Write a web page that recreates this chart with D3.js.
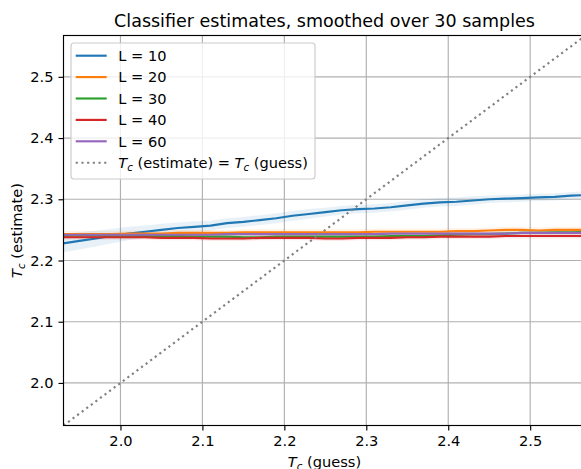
<!DOCTYPE html>
<html>
<head>
<meta charset="utf-8">
<script src="https://cdn.jsdelivr.net/npm/d3@7"></script>
<style>
  body { margin: 0; background: #fff; }
  text { font-family: "DejaVu Sans", sans-serif; }
</style>
</head>
<body>
<svg width="581" height="469"></svg>
<script>
// guessed Tc values (x)
let guess = [1.93, 1.95, 1.97, 1.99, 2.01, 2.03, 2.05, 2.07, 2.09, 2.11, 2.13, 2.15, 2.17, 2.19, 2.21, 2.23, 2.25,
  2.27, 2.29, 2.31, 2.33, 2.35, 2.37, 2.39, 2.41, 2.43, 2.45, 2.47, 2.49, 2.51, 2.53, 2.55, 2.57];

let labels = ["L = 10", "L = 20", "L = 30", "L = 40", "L = 60"];
let colors = ["#1f77b4", "#ff7f0e", "#2ca02c", "#d62728", "#9467bd"];

let est10 = [2.228, 2.232, 2.236, 2.240, 2.244, 2.247, 2.250, 2.253, 2.255, 2.257, 2.261, 2.263, 2.266, 2.269, 2.273, 2.276, 2.279,
  2.282, 2.284, 2.285, 2.287, 2.290, 2.293, 2.295, 2.296, 2.298, 2.300, 2.301, 2.302, 2.303, 2.304, 2.306, 2.307];
let est20 = [2.243, 2.243, 2.243, 2.243, 2.244, 2.244, 2.244, 2.245, 2.245, 2.245, 2.245, 2.246, 2.246, 2.246, 2.246, 2.246, 2.246,
  2.246, 2.246, 2.247, 2.247, 2.247, 2.247, 2.247, 2.248, 2.248, 2.249, 2.250, 2.250, 2.249, 2.250, 2.250, 2.250];
let est30 = [2.241, 2.241, 2.241, 2.240, 2.240, 2.240, 2.240, 2.240, 2.239, 2.239, 2.239, 2.238, 2.238, 2.239, 2.239, 2.239, 2.239,
  2.239, 2.239, 2.239, 2.240, 2.240, 2.240, 2.241, 2.242, 2.243, 2.243, 2.244, 2.245, 2.245, 2.246, 2.246, 2.247];
let est40 = [2.238, 2.238, 2.238, 2.238, 2.238, 2.238, 2.237, 2.237, 2.237, 2.236, 2.236, 2.236, 2.237, 2.237, 2.237, 2.237, 2.236,
  2.236, 2.237, 2.237, 2.237, 2.238, 2.238, 2.239, 2.239, 2.239, 2.239, 2.240, 2.240, 2.240, 2.240, 2.240, 2.240];
let est60 = [2.242, 2.242, 2.242, 2.242, 2.242, 2.242, 2.242, 2.242, 2.242, 2.242, 2.243, 2.243, 2.243, 2.243, 2.243, 2.243, 2.243,
  2.243, 2.243, 2.243, 2.244, 2.244, 2.244, 2.244, 2.244, 2.244, 2.244, 2.244, 2.245, 2.245, 2.245, 2.245, 2.245];

// spread of the estimate (half width of the shaded band)
let err10 = [0.015, 0.014, 0.013, 0.012, 0.011, 0.010, 0.010, 0.009, 0.009, 0.008, 0.008, 0.008, 0.008, 0.008, 0.008, 0.008, 0.007,
  0.007, 0.007, 0.007, 0.007, 0.007, 0.007, 0.007, 0.007, 0.007, 0.006, 0.006, 0.006, 0.006, 0.006, 0.006, 0.006];
let err20 = [0.005, 0.005, 0.005, 0.005, 0.005, 0.005, 0.005, 0.005, 0.005, 0.005, 0.005, 0.005, 0.005, 0.005, 0.005, 0.005, 0.005,
  0.005, 0.005, 0.005, 0.005, 0.005, 0.005, 0.005, 0.005, 0.005, 0.005, 0.005, 0.005, 0.005, 0.005, 0.005, 0.005];
let err30 = [0.004, 0.004, 0.004, 0.004, 0.004, 0.004, 0.004, 0.004, 0.004, 0.004, 0.004, 0.004, 0.004, 0.004, 0.004, 0.004, 0.004,
  0.004, 0.004, 0.004, 0.004, 0.004, 0.004, 0.004, 0.004, 0.004, 0.004, 0.004, 0.004, 0.004, 0.004, 0.004, 0.004];
let err40 = [0.004, 0.004, 0.004, 0.004, 0.004, 0.004, 0.004, 0.004, 0.004, 0.004, 0.004, 0.004, 0.004, 0.004, 0.004, 0.004, 0.004,
  0.004, 0.004, 0.004, 0.004, 0.004, 0.004, 0.004, 0.004, 0.004, 0.004, 0.004, 0.004, 0.004, 0.004, 0.004, 0.004];
let err60 = [0.003, 0.003, 0.003, 0.003, 0.003, 0.003, 0.003, 0.003, 0.003, 0.003, 0.003, 0.003, 0.003, 0.003, 0.003, 0.003, 0.003,
  0.003, 0.003, 0.003, 0.003, 0.003, 0.003, 0.003, 0.003, 0.003, 0.003, 0.003, 0.003, 0.003, 0.003, 0.003, 0.003];

let xTicks = [2.0, 2.1, 2.2, 2.3, 2.4, 2.5];
let yTicks = [2.0, 2.1, 2.2, 2.3, 2.4, 2.5];
let limits = [1.9305, 2.5675];

let ests = [est10, est20, est30, est40, est60];
let errs = [err10, err20, err30, err40, err60];

let svg = d3.select("svg"),
  marginLeft = 63.5,
  marginTop = 35.5,
  width = 522,
  height = 390,
  fs = 14.6;

let xScale = d3.scaleLinear().domain(limits).range([0, width]),
  yScale = d3.scaleLinear().domain(limits).range([height, 0]);

let g = svg.append("g").attr("transform", "translate(" + marginLeft + "," + marginTop + ")");

g.append("clipPath").attr("id", "clip")
  .append("rect").attr("width", width).attr("height", height);

// grid
g.append("g").selectAll("line").data(xTicks).enter().append("line")
  .attr("x1", d => xScale(d)).attr("x2", d => xScale(d))
  .attr("y1", 0).attr("y2", height)
  .attr("stroke", "#b0b0b0").attr("stroke-width", 1.15);
g.append("g").selectAll("line").data(yTicks).enter().append("line")
  .attr("y1", d => yScale(d)).attr("y2", d => yScale(d))
  .attr("x1", 0).attr("x2", width)
  .attr("stroke", "#b0b0b0").attr("stroke-width", 1.15);

let plot = g.append("g").attr("clip-path", "url(#clip)");

// bands first, lines on top
ests.forEach(function (est, k) {
  let area = d3.area()
    .x((d, i) => xScale(guess[i]))
    .y0((d, i) => yScale(d - errs[k][i]))
    .y1((d, i) => yScale(d + errs[k][i]));
  plot.append("path").datum(est)
    .attr("d", area)
    .attr("fill", colors[k])
    .attr("fill-opacity", 0.1);
});

ests.forEach(function (est, k) {
  let line = d3.line()
    .x((d, i) => xScale(guess[i]))
    .y(d => yScale(d));
  plot.append("path").datum(est)
    .attr("d", line)
    .attr("fill", "none")
    .attr("stroke", colors[k])
    .attr("stroke-width", 2.15);
});

// diagonal estimate = guess
plot.append("path").datum(limits)
  .attr("d", d3.line().x(d => xScale(d)).y(d => yScale(d)))
  .attr("fill", "none")
  .attr("stroke", "#808080")
  .attr("stroke-width", 2.15)
  .attr("stroke-dasharray", "2.15,3.55");

// axes
let xAxis = g.append("g")
  .attr("transform", "translate(0," + height + ")")
  .call(d3.axisBottom(xScale).tickValues(xTicks).tickFormat(d3.format(".1f")).tickSizeOuter(0).tickSize(5).tickPadding(5));
let yAxis = g.append("g")
  .call(d3.axisLeft(yScale).tickValues(yTicks).tickFormat(d3.format(".1f")).tickSizeOuter(0).tickSize(5).tickPadding(5));
[xAxis, yAxis].forEach(function (a) {
  a.select(".domain").remove();
  a.selectAll("line").attr("stroke", "#000").attr("stroke-width", 1.15);
  a.selectAll("text").attr("font-size", fs).attr("fill", "#000")
    .style("font-family", "DejaVu Sans");
});

// spines
g.append("rect").attr("width", width).attr("height", height)
  .attr("fill", "none").attr("stroke", "#000").attr("stroke-width", 1.15);

// title and labels
svg.append("text")
  .attr("x", marginLeft + width / 2).attr("y", 26.5)
  .attr("text-anchor", "middle").attr("font-size", 17.5)
  .text("Classifier estimates, smoothed over 30 samples");

function tcLabel(sel, rest) {
  sel.append("tspan").attr("font-style", "italic").text("T");
  sel.append("tspan").attr("font-style", "italic").attr("font-size", "70%").attr("dy", 3).text("c");
  sel.append("tspan").attr("dy", -3).text(rest);
}

let xl = svg.append("text")
  .attr("x", marginLeft + width / 2).attr("y", 467)
  .attr("text-anchor", "middle").attr("font-size", fs);
tcLabel(xl, " (guess)");

let yl = svg.append("text")
  .attr("transform", "translate(22," + (marginTop + height / 2) + ") rotate(-90)")
  .attr("text-anchor", "middle").attr("font-size", fs);
tcLabel(yl, " (estimate)");

// legend
let leg = svg.append("g").attr("transform", "translate(71,43)");
leg.append("rect")
  .attr("width", 244).attr("height", 136)
  .attr("rx", 3).attr("ry", 3)
  .attr("fill", "#fff").attr("fill-opacity", 0.8)
  .attr("stroke", "#cccccc").attr("stroke-width", 1.15);

labels.forEach(function (lab, k) {
  let yy = 12.7 + k * 21.4;
  leg.append("line")
    .attr("x1", 4.7).attr("x2", 35.7).attr("y1", yy).attr("y2", yy)
    .attr("stroke", colors[k]).attr("stroke-width", 2.15);
  leg.append("text")
    .attr("x", 47.3).attr("y", yy + 5.2)
    .attr("font-size", fs)
    .text(lab);
});

let yy = 12.7 + 5 * 21.4;
leg.append("line")
  .attr("x1", 4.7).attr("x2", 35.7).attr("y1", yy).attr("y2", yy)
  .attr("stroke", "#808080").attr("stroke-width", 2.15)
  .attr("stroke-dasharray", "2.15,3.55");
let lt = leg.append("text")
  .attr("x", 47.3).attr("y", yy + 5.2)
  .attr("font-size", fs);
tcLabel(lt, " (estimate) = ");
tcLabel(lt, " (guess)");
</script>
</body>
</html>
